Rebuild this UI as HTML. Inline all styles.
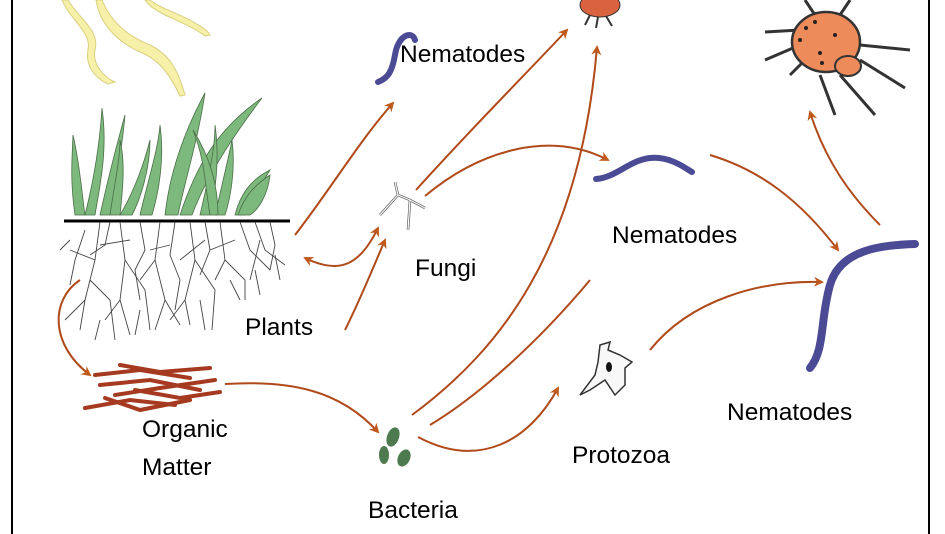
<!DOCTYPE html>
<html><head><meta charset="utf-8"><style>
html,body{margin:0;padding:0;background:#fff;}
svg{display:block;}
text{font-family:"Liberation Sans",Arial,sans-serif;font-size:24.5px;fill:#000;}
</style></head><body>
<svg width="945" height="534" viewBox="0 0 945 534" xmlns="http://www.w3.org/2000/svg">
<defs>
<marker id="a" viewBox="0 0 10 10" refX="8" refY="5" markerWidth="5" markerHeight="5" orient="auto-start-reverse">
<path d="M0,0 L10,5 L0,10 L3,5 Z" fill="#c05a1c"/></marker>
</defs>
<rect width="945" height="534" fill="#fff"/>
<line x1="12" y1="0" x2="12" y2="534" stroke="#000" stroke-width="2"/>
<line x1="929" y1="0" x2="929" y2="534" stroke="#000" stroke-width="2"/>

<g fill="#f6f0a8" stroke="#d9cf80" stroke-width="1">
<path d="M68,0 C80,20 100,30 95,50 C92,65 105,78 115,82 L108,84 C95,78 85,66 88,50 C92,32 70,20 62,0 Z"/>
<path d="M102,0 C110,20 125,35 150,45 C170,55 178,70 185,95 L180,96 C170,75 160,60 140,52 C118,42 100,25 96,0 Z"/>
<path d="M150,0 C160,8 175,12 190,20 C200,26 208,30 210,35 L205,36 C195,28 180,22 165,15 C155,10 148,5 145,0 Z"/>
</g>

<g fill="#7db87c" stroke="#4a6e48" stroke-width="0.8">
<path d="M75,215 C70,180 72,160 73,135 C80,165 82,195 85,215 Z"/>
<path d="M85,215 C95,175 100,140 102,108 C108,150 100,185 95,215 Z"/>
<path d="M100,215 C110,170 118,140 125,115 C122,150 115,185 110,215 Z"/>
<path d="M110,215 C115,180 120,160 120,140 C126,165 122,195 120,215 Z"/>
<path d="M120,215 C135,190 145,160 150,140 C150,170 140,200 132,215 Z"/>
<path d="M140,215 C148,180 158,150 160,125 C165,160 158,195 152,215 Z"/>
<path d="M165,215 C170,170 185,130 205,93 C198,140 185,180 178,215 Z"/>
<path d="M180,215 C195,170 215,130 262,98 C230,140 205,180 192,215 Z"/>
<path d="M200,215 C208,180 215,150 215,125 C220,160 215,195 210,215 Z"/>
<path d="M215,215 C222,185 228,160 232,140 C236,170 230,200 225,215 Z"/>
<path d="M235,215 C240,195 250,180 270,170 C258,190 250,205 245,215 Z"/>
<path d="M238,215 C245,195 255,185 270,175 C268,195 258,210 250,215 Z"/>
<path d="M210,215 C205,185 205,160 193,130 C212,160 218,190 218,215 Z"/>
</g>
<line x1="64" y1="221" x2="290" y2="221" stroke="#000" stroke-width="3"/>

<g stroke="#444" stroke-width="0.9" fill="none">
<path d="M100,222 L95,260 L85,300 L80,330 M95,260 L70,250 M90,280 L110,300 L115,340 M85,300 L65,320"/>
<path d="M120,222 L125,260 L120,300 L130,335 M125,260 L145,290 L150,330 M120,300 L105,320 M130,240 L100,245"/>
<path d="M160,222 L155,260 L165,300 L155,330 M155,260 L140,280 M165,300 L180,325"/>
<path d="M190,222 L195,260 L185,300 L190,325 M195,260 L215,290 L212,330 M185,300 L170,320"/>
<path d="M220,222 L225,260 L245,280 L245,300 M225,260 L215,280 M240,222 L250,250 L270,270 M255,222 L265,250 L285,265 M260,240 L250,280"/>
<path d="M70,240 L60,250 M150,250 L170,245 M205,240 L180,260 M235,240 L210,250"/>
<path d="M110,222 L105,245 L90,255 M140,222 L145,250 L135,270 L140,300 M175,222 L170,255 L180,280 L175,310 M205,222 L210,250 L200,275 M270,222 L275,245 L270,270 M85,230 L75,260 L70,285"/>
<path d="M100,320 L95,340 M140,310 L135,335 M200,300 L205,330 M230,280 L240,300 M255,270 L260,295 M275,255 L280,280"/>
</g>

<g stroke="#a53a20" stroke-width="4" stroke-linecap="round" fill="none">
<path d="M95,375 L140,370 L190,378"/><path d="M100,385 L150,380 L200,390"/>
<path d="M115,395 L160,388 L215,380"/><path d="M85,408 L130,400 L175,405"/>
<path d="M120,365 L160,372 L210,368"/><path d="M135,390 L180,398 L220,392"/>
<path d="M105,398 L140,410 L190,400"/>
</g>

<g fill="#4d7a4f">
<ellipse cx="393" cy="437" rx="6" ry="10" transform="rotate(20 393 437)"/>
<ellipse cx="384" cy="455" rx="5" ry="9"/>
<ellipse cx="404" cy="458" rx="6" ry="9" transform="rotate(25 404 458)"/>
</g>

<g stroke="#4b4a94" stroke-linecap="round" fill="none">
<path d="M415,40 C412,30 398,35 395,55 C392,72 388,78 378,82" stroke-width="6"/>
<path d="M596,179 C615,178 630,160 650,158 C670,156 685,168 692,172" stroke-width="6"/>
<path d="M915,244 C880,245 840,250 830,285 C820,320 825,350 810,368" stroke-width="8"/>
</g>

<g stroke="#555" stroke-width="2.5" fill="none">
<path d="M395,182 L398,195 L380,215 M398,195 L410,200 L425,208 M410,200 L408,230"/>
</g>
<g stroke="#fff" stroke-width="1.2" fill="none">
<path d="M395,182 L398,195 L380,215 M398,195 L410,200 L425,208 M410,200 L408,230"/>
</g>

<path d="M600,345 L610,342 L608,350 L620,355 L632,362 L625,368 L625,385 L615,395 L605,380 L590,390 L580,395 L595,375 L598,362 Z" fill="#f8f8f8" stroke="#333" stroke-width="1.5"/>
<ellipse cx="609" cy="367" rx="3" ry="5" fill="#111"/>

<g>
<ellipse cx="600" cy="5" rx="20" ry="12" fill="#d9633e" stroke="#333"/>
<path d="M590,15 L585,25 M598,17 L596,28 M606,16 L612,26" stroke="#333" stroke-width="2"/>
<g stroke="#333" stroke-width="3" fill="none">
<path d="M800,30 L765,32 M800,45 L765,60 M805,60 L790,75 M820,75 L835,115 M840,75 L875,115 M860,60 L905,88 M860,45 L910,50 M840,15 L850,0 M815,15 L805,0"/>
</g>
<ellipse cx="826" cy="42" rx="34" ry="30" fill="#ed8c5a" stroke="#333" stroke-width="2.5"/>
<ellipse cx="848" cy="66" rx="13" ry="10" fill="#ed8c5a" stroke="#333" stroke-width="2"/>
<g fill="#222"><circle cx="806" cy="28" r="2"/><circle cx="815" cy="22" r="2"/><circle cx="835" cy="35" r="2"/><circle cx="820" cy="53" r="2"/><circle cx="800" cy="40" r="2"/><circle cx="822" cy="63" r="2"/></g>
</g>

<g stroke="#b04a1a" stroke-width="2" fill="none" marker-end="url(#a)">
<path d="M295,235 C330,190 360,140 393,103"/>
<path d="M416,190 C470,130 520,80 567,30"/>
<path d="M425,196 C480,150 550,130 608,160"/>
<path d="M378,228 C360,265 340,275 305,258" marker-start="url(#a)" marker-end="url(#a)"/>
<path d="M345,330 C360,300 370,275 385,240"/>
<path d="M80,280 C50,300 50,345 90,375"/>
<path d="M225,384 C290,380 340,390 378,432"/>
<path d="M412,415 C500,350 580,250 597,47"/>
<path d="M430,425 C480,395 540,340 590,280" marker-end="none"/>
<path d="M418,437 C480,470 530,440 558,388"/>
<path d="M650,350 C690,300 760,280 822,282"/>
<path d="M710,155 C760,170 800,200 838,250"/>
<path d="M880,225 C850,195 825,160 810,112"/>
</g>

<text x="400" y="62">Nematodes</text>
<text x="415" y="276">Fungi</text>
<text x="612" y="243">Nematodes</text>
<text x="245" y="335">Plants</text>
<text x="142" y="437">Organic</text>
<text x="142" y="475">Matter</text>
<text x="368" y="518">Bacteria</text>
<text x="572" y="463">Protozoa</text>
<text x="727" y="420">Nematodes</text>
</svg>
</body></html>
